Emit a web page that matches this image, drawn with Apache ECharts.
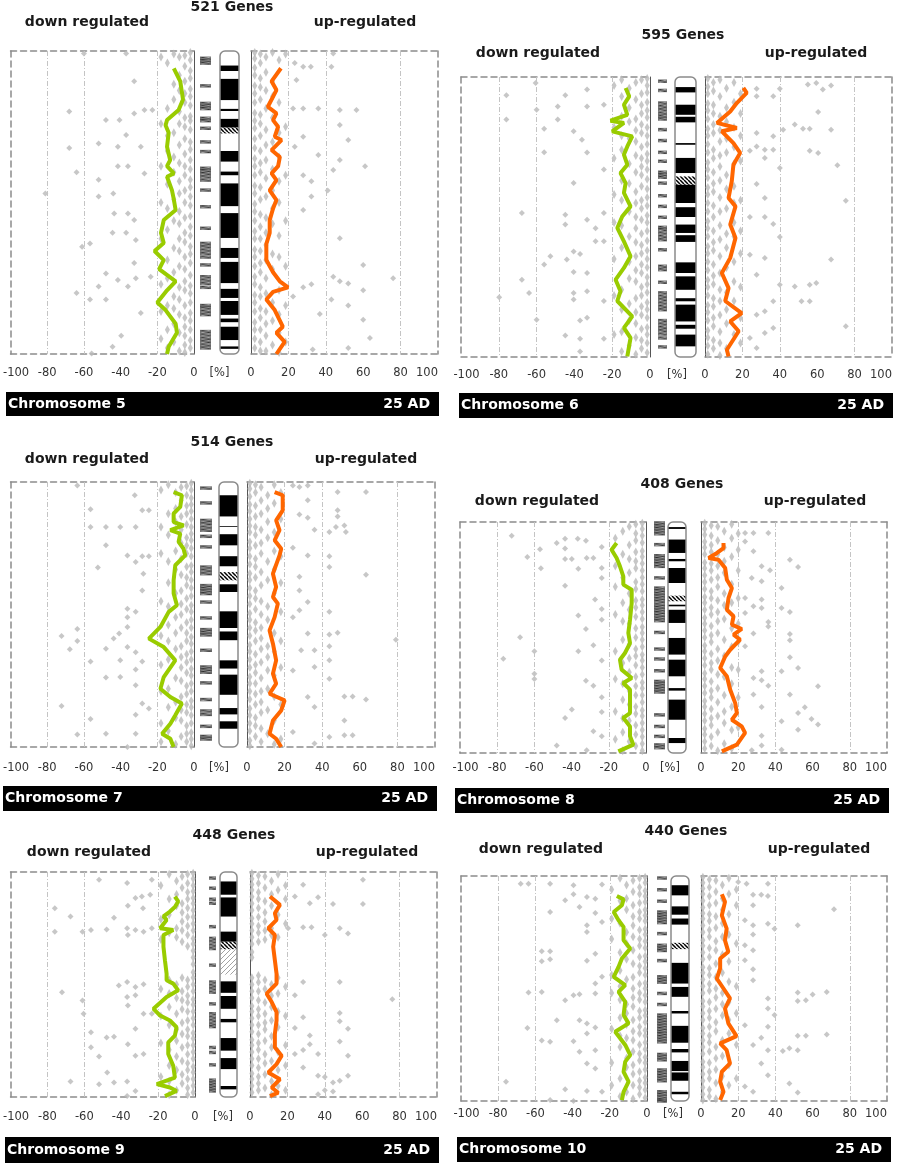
<!DOCTYPE html>
<html>
<head>
<meta charset="utf-8">
<script src="https://cdn.jsdelivr.net/npm/echarts@6.0.0/dist/echarts.min.js"></script>
<style>
  html, body { margin: 0; padding: 0; background: #fff; }
  #chart { width: 897px; height: 1165px; }
</style>
</head>
<body>
<div id="chart"></div>
<script>
// ---- chromosome 5 ----
const chr5Green = [[-11,5.7],[-7.5,10],[-6,16],[-8.4,19.5],[-14.7,22.8],[-15.5,24.5],[-13.8,27],[-14.7,31.6],[-13,36],[-14.7,38],[-11,40.4],[-14.7,41.5],[-12,46],[-11,49],[-10,52.5],[-16.5,55.8],[-18,60],[-16.5,63.4],[-21.5,66],[-16.5,69],[-19,72],[-10,76],[-14.7,79],[-20,83],[-15.5,85.5],[-10,90],[-9.3,93],[-13.8,97.6],[-14.7,100]];
const chr5Orange = [[16,5.7],[11,10],[13.6,12.9],[9,18.4],[13.6,20.6],[11.8,22.8],[14.5,25],[12.7,28.3],[16.3,29.4],[11,32.7],[15.4,35],[14.5,38],[11,40.4],[13.6,42.6],[10,46],[13.6,49.2],[11.8,52],[10,55.8],[10,60],[8.2,63.7],[8.2,66.3],[8.2,69],[11.8,73],[15.4,76],[19.8,78],[11.8,79.5],[8.2,82],[12.7,85.5],[17,91],[13.6,93],[18,96],[13.6,100]];
const chr5Down = [[-68,20],[-68,32],[-64,40],[-52,30.5],[-52,42.5],[-48,22.8],[-40.6,22.8],[-37,27.7],[-32.6,10],[-32.6,20.6],[-27,19.5],[-29,31.6],[-27,40.4],[-22.7,19.5],[-41.5,31.6],[-41.5,38],[-36,38],[-60,0.8],[-37,0.8],[-81,47],[-44,47],[-52,48],[-61,64.6],[-56.7,63.5],[-64,79.9],[-52,77.7],[-56.7,82],[-48,82],[-48,73.4],[-36,77.7],[-37,60],[-31.7,62.4],[-44.4,60],[-43.5,53.6],[-36,53.6],[-32.6,55.8],[-32.6,70],[-29,86.5],[-39.7,94],[-44.4,97.6],[-55.8,99.8],[-41.5,75.6],[-31.7,75],[-23.6,74.5]];
const chr5DownCols = [[-2,[0.5,3,6.5,9,12.5,15,18,21.5,23,26,30,32.5,36,39,42.5,45,48,51,54.5,58,61,64.5,67,70,74,77.5,80,83,86.5,89,92,95.5,98]],[-5,[1.5,5,10,14,17,22,25,29,34,38,41,46,50,55,60,63,68,72,76,79,84,88,91,94,97,99.5]],[-8,[2,8,13,20,24,31,37,43,47,53,57,62,66,71,78,82,87,93,99]],[-11,[1,11,16,27,35,40,49,56,65,73,81,85,90,96]],[-14.5,[4,19,28,33,44,52,59,69,75,84,92,98]],[-18,[2,24,38,50,62,77,86,95]]];
const chr5Up = [[27.9,5.2],[32,5.2],[43,5.2],[24.3,9.6],[22.5,19],[27.9,19],[36,19],[47.5,19.5],[56.4,19.5],[47.5,24.4],[52,29.4],[27.9,28.3],[36,34.3],[47.5,36],[61,38],[44,39.3],[27.9,41],[32.3,43],[41,46],[32.3,48],[23.4,31.6],[44,0.8],[23.4,4],[27.9,52.5],[47.5,61.8],[60,70.6],[44,74.5],[47.5,76],[52,76.7],[76,75],[60,79],[43,82],[52,84],[36.8,86.8],[60,88.7],[63.6,94.7],[52,98],[33,98.5],[27.9,78],[32.3,77],[22.5,81]];
const chr5UpCols = [[2,[0.5,2.5,5.5,8,11.5,14,17,20.5,23,25.5,29,32,35.5,38,41,44.5,47,50.5,53,56,59.5,62,65.5,68,71,74.5,77,80.5,83,86,89.5,92,95,98]],[5,[1,4,9,12,16,21,24,28,33,37,40,45,49,54,58,62,66,70,73,78,81,85,88,92,96,99]],[8,[2,7,13,19,26,31,36,42,48,55,60,64,69,75,80,86,90,94,99]],[11.5,[0.5,10,15,22,30,39,46,52,57,67,72,83,89,97]],[15,[3,17,27,35,43,50,61,68,79,87,93,99.5]],[18.5,[1,25,41,56,71,84,96]]];
const chr5Bands = [[4.8,6.6,1],[9.2,16.2,1],[19.1,19.8,1],[22.4,25.3,1],[25.3,27.2,2],[33,36.5,1],[39.8,41,1],[43.7,51.2,1],[53.5,61.7,1],[65,68.3,1],[69.6,76.6,1],[78.5,81.5,1],[82.5,87.1,1],[88.3,89.5,1],[91,95.4,1],[97.5,98.3,1]];
const chr5Marks = [2.4,3.2,4,11.5,17.3,18.2,19,22.2,23,25.5,30,33.2,38.7,39.5,40.4,41.5,42.6,45.9,51.4,58.5,63.5,64.6,65.7,66.8,68,70.6,74.5,75.6,76.7,78,84,84.8,85.9,87,92.6,93.7,94.8,95.9,97,98];

// ---- chromosome 6 ----
const chr6Green = [[-12.9,3.9],[-11,6.9],[-13.8,9.9],[-12,13.5],[-20.9,15.6],[-13.8,16.4],[-20,19.4],[-9.4,21.2],[-12,24.8],[-13.8,27.7],[-12,31.3],[-15.6,34.3],[-12.9,37.9],[-13.8,41.4],[-10.3,46.2],[-14.7,49.8],[-17.3,53.9],[-13.8,58.7],[-10.3,64],[-13.8,68.2],[-18.2,72.4],[-15.6,76.5],[-17.3,80],[-9.4,85.5],[-13.8,89.6],[-10.3,93.2],[-12,99.8]];
const chr6Orange = [[20.5,3.9],[22.3,5.7],[17,9.3],[13.5,12.3],[6.4,16.4],[17,18.2],[9,19.4],[15.2,23.6],[18.8,27.1],[15.2,31.3],[14.3,37.3],[12.6,43.2],[16.3,46.2],[13.5,52.7],[16.3,57.5],[13.5,64.6],[9,70],[12.6,75.4],[10.8,80],[19.6,84.3],[13.5,87.3],[18,90.8],[11.7,97.4],[12.6,99.8]];
const chr6Down = [[-76,6.5],[-76,15.2],[-60,11.7],[-60.5,2.1],[-56,18.5],[-56,26.9],[-48.8,10.5],[-48.8,15.2],[-44.8,6.5],[-40.4,19.4],[-36,22.4],[-33.3,10.5],[-33.3,4.5],[-24.4,9.9],[-24.4,33],[-40.4,37.9],[-33.3,27],[-67.8,48.6],[-44.8,49.2],[-44.8,52.7],[-33.3,51],[-24.4,48.6],[-28.8,54],[-52.7,64],[-44,65.2],[-40.4,62.3],[-37,63.2],[-56,67],[-67.8,72.4],[-64,77.1],[-79.8,78.7],[-40.4,77.1],[-33.3,76.5],[-40.4,79.5],[-24.4,80],[-40.4,69.6],[-33.3,70],[-60,86.7],[-37,87],[-33.3,86],[-44.8,92.3],[-37,93.5],[-24.4,93.5],[-37,98],[-28.8,58.7],[-24.4,58.7]];
const chr6DownCols = [[-1.5,[0.5,3,5.5,9,12,14.5,18,21,24,27.5,30,33,36.5,40,43,46,49.5,52,55,58.5,62,65,68,71.5,74,77,80.5,83,86,89.5,92,95,98.5]],[-4.5,[1,6,10,13,17,20,25,29,32,35,39,44,47,51,56,60,63,67,70,75,78,82,85,90,94,97]],[-7.5,[2,8,15,19,23,28,34,41,45,50,54,59,64,69,73,79,84,88,93,99]],[-11,[4,11,16,22,31,38,48,57,66,72,81,87,96]],[-15,[1,7,14,21,26,37,44,53,61,76,83,91,98]],[-19,[3,18,29,42,52,65,78,92]]];
const chr6Up = [[27.6,4.2],[27.6,6.9],[36.5,6.9],[40,4.2],[55,2.7],[59.5,2.1],[67.4,3],[63,4.5],[60.5,12.5],[48,17],[52.4,18.5],[56,18.5],[67.4,18.8],[41.8,18.8],[27.6,20],[36.5,21.2],[27.6,24.8],[32,26],[36.5,26],[24,26.3],[56,26.3],[60.5,27.1],[32,28.9],[70.8,31.5],[40,32.5],[27.6,38.2],[32,43.2],[75.3,44.2],[24,50],[32,50],[36.5,52.5],[40,57.1],[24,63.5],[32,64.6],[67.4,65.2],[27.6,70.6],[48,74.8],[56,74.2],[59.5,73.6],[40,74.2],[36.5,80.1],[51.6,80.1],[56,80.1],[32,83.7],[27.6,84.9],[75.3,89],[36.5,89.6],[24,93.2],[32,91.4],[27.6,96.8]];
const chr6UpCols = [[1.5,[0.5,3.5,6,9.5,12,15,18.5,21,24,27,30.5,33,36,39.5,42,45,48,51.5,54,57,60.5,63,66,69,72.5,75,78,81.5,84,87,90.5,93,96,99]],[4.5,[2,5,10,13,17,20,26,29,34,38,41,46,50,55,59,62,67,71,74,79,82,86,89,94,97]],[8,[1,7,14,19,23,28,32,37,43,48,53,58,64,70,76,80,85,91,95,99.5]],[11.5,[4,11,16,22,27,35,40,47,56,61,68,77,83,88,97]],[15.5,[2,9,18,25,31,39,45,52,57,66,73,80,92]],[19,[6,13,21,30,44,55,63,75,86,95]]];
const chr6Bands = [[3.6,5.5,1],[9.9,13.5,1],[14.2,16.2,1],[23.6,24.2,1],[28.9,34.3,1],[35.5,38.5,2],[38.5,45,1],[46.5,50,1],[52.7,55.7,1],[56.5,58.9,1],[66.2,70,1],[71.2,76,1],[79,80.1,1],[81.3,87.3,1],[88.5,89.9,1],[92,96.2,1]];
const chr6Marks = [1.5,4.8,9.3,10.5,11.7,12.9,14,15,18.8,22.7,26.9,30.1,34,34.9,35.8,37.9,42.4,46.2,50.1,53.7,54.5,55.7,56.9,58.1,61.7,67.6,68.8,73.3,77.1,78.3,79.5,80.7,81.9,83.1,87,88.2,89.4,90.6,91.8,93.2,96.4];

// ---- chromosome 7 ----
const chr7Green = [[-11.1,3.8],[-6.6,5],[-7.5,9.4],[-11.1,11.9],[-11.1,15.1],[-5.7,16.4],[-12.9,18.2],[-7.5,19.5],[-8.4,22.6],[-5.7,25.2],[-4.8,27.7],[-10.2,31.4],[-11.1,37.1],[-11.1,42.1],[-9.3,46.5],[-13.8,49],[-18.3,54.7],[-24.6,59.1],[-16.5,62.3],[-10.2,67.3],[-16.5,73.6],[-18.3,78],[-12.9,81.1],[-6.6,83.6],[-10.2,88],[-12.9,91.2],[-17.4,95],[-12.9,96.9],[-11.1,100]];
const chr7Orange = [[14.7,3.8],[19,5],[19,10.7],[15.5,14.5],[17.3,18.2],[14.7,22],[18.2,25.2],[17.3,27.7],[13.8,34.6],[15.5,39.6],[13.8,43.4],[16.4,45.9],[14.7,51],[12,56],[13.8,61],[15.5,67.3],[13.8,72.3],[15.5,76.1],[12,79.9],[20,82.4],[18.2,86.2],[13.8,90],[12,95],[15.5,96.9],[18.2,100]];
const chr7Down = [[-63.6,1.3],[-56.4,10.3],[-56.4,17],[-48,17],[-40.2,17],[-31.8,17],[-28.2,10.7],[-24.6,10.7],[-32.3,5],[-48,23.9],[-36.3,27.7],[-28.2,28],[-24.6,28],[-52.4,32.3],[-31.8,30.2],[-27.6,34.6],[-28.2,40.9],[-36.3,47.8],[-36.3,51],[-31.8,49],[-72.2,58.1],[-63.6,55.5],[-63.6,60],[-67.7,63.1],[-43.8,59.1],[-40.8,57.2],[-36.3,54.7],[-36.3,62.3],[-40.2,67.3],[-48,62.9],[-56.4,67.7],[-31.8,64.2],[-28.2,67.7],[-48,73.8],[-40.2,73.6],[-31.8,70.8],[-31.8,76.7],[-72.2,84.5],[-56.4,89.4],[-48,95],[-63.6,95.3],[-31.8,87.8],[-31.8,95],[-28.2,83.6],[-24.6,85.5],[-36.3,100]];
const chr7DownCols = [[-1.5,[0.5,3,6,8.5,11,14,17,19.5,22,25,28,31.5,34,37,40,43,46.5,49,52,55,58.5,61,64,67,70.5,73,76,79,82.5,85,88,91,94.5,97,99.5]],[-4,[1.5,5,9,12,16,21,24,27,32,36,39,44,48,53,57,60,65,68,72,77,80,84,87,92,95,98]],[-7,[2,7,13,18,23,29,35,41,46,50,55,62,66,70,75,81,86,90,96]],[-10,[4,10,15,26,33,42,51,57,63,74,83,89,99]],[-14,[1,12,20,30,38,47,54,60,67,78,85,94]],[-18,[3,17,27,45,58,69,79,91,98]]];
const chr7Up = [[24.4,1.3],[27.9,1.9],[32.3,1.3],[63.3,3.8],[48.2,3.8],[32.3,6.9],[48.2,10.7],[48.2,13],[27.9,12.3],[32.3,13.5],[47.3,17],[51.8,16.4],[43.8,18.9],[52.6,18.9],[35.9,18],[24.4,24.8],[32.3,27.7],[43.8,28],[43.8,32.1],[63.3,35],[27.9,35.8],[27.9,40.9],[32.3,45.3],[27.9,48.4],[43.8,49],[24.4,51],[43.8,57.5],[48.2,56.9],[79.2,59.5],[32.3,57.2],[43.8,62],[28.8,63.5],[35.9,63.5],[43.8,67.3],[35.9,69.8],[43.8,74.2],[24.4,71.1],[51.8,80.9],[56.2,80.9],[63.3,82.1],[32.3,81.1],[35.9,84.9],[51.8,90],[51.8,95.6],[56.2,95.6],[43.8,96.2],[35.9,98.7],[24.4,94.3]];
const chr7UpCols = [[1.5,[0.5,2.5,5.5,8.5,11,14,16.5,19,22.5,25,28,31,34.5,37,40,43,46,49.5,52,55,58,61.5,64,67,70,73.5,76,79,82,85.5,88,91,94,97.5,99.5]],[4.5,[1,4,9,13,17,20,24,29,32,36,41,44,48,53,56,60,65,69,72,76,80,84,89,92,96]],[7.5,[2,7,12,18,23,27,34,39,45,50,55,59,63,68,74,79,83,87,93,98]],[11,[5,10,15,21,30,37,47,52,62,66,71,78,86,95]],[14.5,[1,8,19,26,33,42,57,64,73,81,90,99]],[18,[4,14,28,38,49,60,70,84,97]]];
const chr7Bands = [[5,13,1],[16.6,16.9,1],[19.7,23.9,1],[28,31.8,1],[34,37.1,2],[38.6,41.5,1],[48.8,55.1,1],[56.4,59.7,1],[67.3,70.4,1],[72.7,80.3,1],[85.3,87.7,1],[90.3,93.1,1]];
const chr7Marks = [2.3,7.9,14.5,15.7,17,18.2,20.5,24.5,32.1,33.3,34.6,39.1,40.1,41.1,42.1,45.3,51.3,55.7,56.7,57.7,63.5,69.8,70.8,71.8,75.8,82.1,86.4,87.7,92.2,96,97];

// ---- chromosome 8 ----
const chr8Green = [[-15.8,9.1],[-18.5,12],[-15.8,15.6],[-14,19.2],[-12.2,23.5],[-12.2,27.1],[-7.7,29.3],[-7.7,35.1],[-8.6,42.3],[-9.5,48],[-8.6,52.4],[-11.3,56.7],[-14,59.6],[-13.1,63.9],[-7.7,67.5],[-12.2,69.7],[-8.6,72.6],[-8.6,78.4],[-8.6,82.7],[-12.2,84.8],[-8.6,88.5],[-8.6,92.8],[-6.8,96.4],[-14.9,99.3]];
const chr8Orange = [[12.1,9.1],[12.1,11.3],[8.6,13.4],[4.1,15.6],[9.4,16.3],[13,19.9],[13.9,25],[16.6,28.6],[14.8,32.9],[13.9,38],[17.5,40.8],[16.6,44.4],[21.9,46.3],[17.5,48.8],[21,50.9],[15.7,55.3],[13,58.2],[10.3,63.2],[13.9,66.8],[15.7,72.6],[18.4,78.4],[19.3,82.7],[16.6,85.6],[21.9,88.5],[23.7,91.3],[19.3,96.4],[11.2,99.3]];
const chr8Down = [[-72.2,5.9],[-43.5,7.2],[-36.7,7.2],[-32.3,8.1],[-48,9.1],[-43.5,11.5],[-23.8,10.8],[-57,11.8],[-63.8,15.2],[-43.5,16],[-39.9,16],[-31.9,15.6],[-28.3,15.6],[-56.5,20],[-36.4,20.2],[-23.8,19.9],[-23.8,24.2],[-43.5,27.6],[-27.4,33.6],[-23.8,37.7],[-36.4,40.5],[-23.8,42.3],[-32.3,46.3],[-67.7,49.9],[-28.3,53.4],[-36.4,56],[-60,56],[-76.7,59.2],[-23.8,60],[-60,65.7],[-60,68],[-32.3,68.7],[-28.3,70.9],[-23.8,75.9],[-39.9,81.2],[-43.5,84.8],[-23.8,82.3],[-48,96.8],[-31.9,98.8],[-23.8,92.8],[-28.3,90.6]];
const chr8DownCols = [[-2,[0.5,3,6,9,12.5,15,18,21,24,27,30,33.5,36,39,42,45.5,48,51,54,57.5,60,63,66,69.5,72,75,78,81.5,84,87,90,93,96,99]],[-5.5,[1,5,8,13,17,20,26,29,34,37,41,46,50,55,58,62,67,71,75,80,83,88,92,97]],[-9,[2,10,16,22,31,38,44,53,59,65,73,79,86,95]],[-12.5,[4,14,24,35,43,51,61,70,77,85,91,99]],[-16.5,[7,19,28,40,56,68,82,94]]];
const chr8Up = [[23.7,4.8],[28.2,4.8],[36.2,4.8],[23.7,8.4],[28.2,12.7],[47.8,16.3],[52.2,19.5],[32.6,19.2],[37.1,20.9],[27.3,24.2],[32.6,25.7],[43.3,28.6],[23.7,32.9],[32.6,33.6],[28.2,36.5],[32.6,37.2],[43.3,37.2],[47.8,39],[23.7,39.4],[36.2,43.3],[36.2,45.2],[28.2,48.3],[47.8,48.5],[47.8,51.2],[23.7,53.8],[47.8,58.6],[52.2,63.2],[43.3,64.6],[32.6,64.6],[28.2,67.5],[32.6,68.5],[36.2,70.9],[47.8,74.7],[62.9,71.1],[28.2,74.7],[32.6,80.1],[55.8,80.2],[52.2,82.7],[59.4,85.3],[62.9,87.7],[43.3,86.3],[52.2,89.9],[32.6,92.5],[32.6,96.8],[43.3,98.6],[27.3,98.8]];
const chr8UpCols = [[2,[0.5,3,5.5,8.5,11,14,17.5,20,23,26,29,32.5,35,38,41.5,44,47,50,53.5,56,59,62,65.5,68,71,74,77.5,80,83,86,89.5,92,95,98]],[5.5,[1.5,6,10,13,18,21,25,30,33,37,40,45,49,52,57,61,64,69,73,76,81,85,88,93,97]],[9,[2,8,14,19,24,28,34,39,43,48,55,60,66,72,78,84,91,99]],[12.5,[4,11,17,22,31,36,42,51,58,67,75,82,87,96]],[16.5,[1,7,15,27,35,46,54,63,70,80,90,98]],[20,[5,12,21,33,44,52,64,76,89]]];
const chr8Bands = [[2.2,3,1],[7.6,13.4,1],[16,17,1],[19.9,26.4,1],[31.9,34.3,2],[35.8,36.5,1],[38,43.7,1],[50.2,57.4,1],[59.6,66.8,1],[71.9,73,1],[76.9,85.6,1],[93.5,95.7,1]];
const chr8Marks = [0.4,1.6,2.7,3.9,5.1,9.8,14.6,15.7,16.9,18,19.2,24.2,28.6,29.7,30.9,32,33.2,34.3,35.8,36.9,38.1,39.2,40.4,41.6,42.7,47.8,55,59.3,64.4,69,70.1,71.3,72.4,73.6,83.5,88.5,92.8,96.5,97.7];

// ---- chromosome 9 ----
const chr9Green = [[-10.9,10.9],[-9.1,13.1],[-10.9,15.6],[-13.6,17.6],[-17.1,19.7],[-15.4,21.3],[-18.9,25],[-11.8,25.8],[-17.1,28],[-17.1,33.2],[-16.3,39.2],[-15.4,45.2],[-15.4,48.1],[-11.8,49.6],[-9.1,52.6],[-15.4,55.6],[-22.5,60.8],[-18.9,63.8],[-13.6,66],[-10,69],[-10.9,72.7],[-14.5,75.7],[-14.5,80.9],[-11.8,86.1],[-10.9,91.4],[-20.7,94.3],[-13.6,95.8],[-10,97.3],[-16.3,99.6]];
const chr9Orange = [[10.7,10.9],[16,14.6],[13.3,18.3],[14.2,21.3],[9.8,25],[13.3,28],[12.4,33.2],[13.3,39.2],[14.2,45.2],[14.2,49.6],[8.9,54.1],[11.6,57.8],[14.2,62.3],[14.2,66],[13.3,72],[13.3,77.9],[16.9,81.7],[14.2,85.4],[9.8,89.1],[16,92.1],[11.6,95.8],[15.1,98.1],[10.7,99.6]];
const chr9Down = [[-52,3.4],[-36.8,4.9],[-23.4,3.4],[-32.3,11.6],[-28.8,10.9],[-24.3,10.1],[-36.4,15],[-28.2,16.1],[-76,16.1],[-67.5,19.8],[-43.9,20.3],[-76,26.5],[-61,26.5],[-56.4,25.8],[-47.9,25.5],[-36.8,25],[-32.3,25.8],[-27.9,26.5],[-23.4,25],[-36.4,28],[-72.1,53.4],[-61,57.1],[-60.4,63],[-41.3,50.4],[-36.8,48.9],[-32.3,51.1],[-27.9,49.9],[-36.8,55.6],[-32.3,54.8],[-36.4,59.3],[-27.9,63],[-23.4,63],[-32.3,69.7],[-56.4,71.2],[-47.9,73.5],[-43.9,73.2],[-36.4,76.5],[-56.4,77.9],[-52,82],[-32.3,81.7],[-27.9,80.9],[-47.6,89.1],[-43.9,93.6],[-36.8,93.1],[-52,94.3],[-67.5,93.1],[-32.3,97.3],[-36.8,99.6]];
const chr9DownCols = [[-1,[0.5,3,6,8.5,11.5,14,17,20,23,26,29.5,32,35,38,41,44.5,47,50,53,56.5,59,62,65,68,71.5,74,77,80,83,86.5,89,92,95,98]],[-4,[1,5,9,12,16,20,24,28,33,48,51,55,58,62,66,70,73,77,81,85,88,92,96,99]],[-7,[2,7,14,18,22,26,31,47,53,57,61,67,72,78,84,90,94]],[-10,[4,10,15,25,29,50,56,63,70,75,82,88,97]],[-14,[1,12,19,27,48,54,60,68,79,86,93,99]],[-18.5,[6,21,30,52,64,76,91]]];
const chr9Up = [[24,10.9],[28.4,5.7],[36.4,11.2],[32,13.9],[44.4,14.2],[60.4,14.2],[60.4,3.4],[20.4,25],[28.4,24.6],[32.9,24.6],[48,25],[52.4,27.3],[40,28],[28.4,48.9],[48,48.9],[24,54.8],[76.1,56.6],[28.4,64.5],[48,62.7],[48,66.3],[24,69.3],[52.4,69.7],[32,72.7],[48,75.3],[32,76.5],[24,80.9],[28.4,79.1],[36.4,80.9],[52.4,81.7],[28.4,86.9],[36.4,90.6],[40,91.1],[44.4,93.6],[52.4,90.6],[48,92.8],[40,97],[36.4,98.8],[44.4,97.6]];
const chr9UpCols = [[1,[0.5,3,5.5,8,11,14,17,20.5,23,26,29,32,35.5,38,47,50,53,56,59.5,62,65,68,71,74.5,77,80,83,86,89.5,92,95,98]],[4.5,[1.5,5,9,12,16,20,24,27,31,46,49,53,57,61,64,68,72,76,79,83,87,91,94,97]],[8,[2,7,13,18,22,26,30,48,52,58,63,67,70,75,81,85,90,96]],[11.5,[4,10,15,25,28,50,55,60,66,73,78,84,93,99]],[15,[1,8,19,29,47,54,62,69,80,88,95]],[19,[6,12,23,51,64,77,86,97]]];
const chr9Bands = [[4.2,10.1,1],[11.3,19.8,1],[26.5,31,1],[31,34.4,2],[34.4,45.6,3],[48.6,53.7,1],[55.1,60.8,1],[65.3,66.8,1],[73.8,79.4,1],[82.7,87.6,1],[95.1,96.6,1]];
const chr9Marks = [2.7,7.2,12.1,13.9,24.3,29.5,31,32.5,34,41.4,48.9,50.4,51.9,53.4,58.6,63,64.5,66,67.5,68.7,78,80.2,85.7,92.5,93.7,94.9,96.1,97.3];

// ---- chromosome 10 ----
const chr10Green = [[-16.2,8.9],[-12.6,10.4],[-13.5,13],[-17.9,16],[-15.3,19.7],[-12.6,22.6],[-12.6,28.6],[-9,32.2],[-13.5,36.7],[-15.3,40.4],[-17.9,44.8],[-11.7,48.5],[-15.3,51.5],[-11.7,55.9],[-12.6,61.8],[-9.9,65.5],[-17.1,69.2],[-11.7,75.1],[-9,79.6],[-11.7,82.5],[-12.6,87],[-9.9,91.4],[-12.6,95.9],[-13.5,99.6]];
const chr10Orange = [[11.2,8.1],[12.9,11.5],[11.2,17.5],[13.8,23.4],[12.9,28.6],[14.7,33.7],[10.3,36.7],[10.3,41.1],[8.5,45.6],[12.1,50],[15.6,54.4],[12.9,58.9],[14.7,65.5],[19.1,71.2],[10.3,74.4],[13.8,77.4],[15.6,83.3],[11.2,87],[10.3,91.4],[12.1,95.9],[10.3,99.6]];
const chr10Down = [[-67.9,3.4],[-63.7,3.4],[-52.1,3.4],[-39.5,4.1],[-24.2,3.8],[-39.5,8.1],[-32.3,9.3],[-27.8,10.1],[-44,10.8],[-36.3,13.8],[-52.1,16],[-27.8,16.4],[-24.2,20.4],[-32.3,21.9],[-32.3,24.9],[-56.6,33.4],[-52.1,33.4],[-56.6,37.9],[-52.1,37],[-27.8,34.5],[-32.3,37.7],[-24.2,44.8],[-27.8,47.8],[-63.7,51.8],[-56.6,51.5],[-44,55.2],[-39.5,53],[-36.3,52.5],[-27.8,52.2],[-48.5,64.1],[-36.3,64.1],[-32.3,65.5],[-27.8,67.3],[-64.3,67.5],[-56.6,73.1],[-52.1,73.7],[-39.5,73.4],[-32.3,70],[-36.3,78.1],[-27.8,77.4],[-32.3,83.3],[-27.8,85.5],[-75.8,91.4],[-44,94.8],[-32.3,95.6],[-52.1,99.6],[-39.5,100],[-24.2,95.9]];
const chr10DownCols = [[-1,[0.5,3,6.5,9,11.5,15,17.5,20,23.5,26,29,32,35.5,38,41,44,47.5,50,53,56,59.5,62,65,68.5,71,74,77,80.5,83,86,89.5,92,95,98.5]],[-4,[1,5,8,12,16,19,24,28,31,36,40,43,48,52,55,60,63,67,70,75,79,82,87,91,94,97]],[-7.5,[2,7,13,18,22,27,33,39,45,50,54,58,64,69,73,78,84,88,93,99]],[-11,[4,10,15,25,30,37,46,57,61,66,72,81,85,96]],[-14.5,[1,11,21,34,42,49,55,63,71,76,90,98]],[-19,[6,19,28,44,52,68,83,93]]];
const chr10Up = [[20,2.7],[24.5,3.4],[36,3.4],[28,8.3],[32.4,8.3],[36,8.9],[28,13],[71.5,14.8],[23.6,19.7],[28,21.9],[36,21.2],[39.5,23.4],[52,21.9],[28,26],[23.6,30.8],[28,33],[23.6,37.4],[28,41.4],[28,46.3],[36,54.4],[52,51.8],[52,55.6],[56.4,55.2],[60,52.7],[67.6,51.5],[36,58.9],[39.5,61.8],[23.6,66.3],[36,67],[32.4,71.9],[52,71],[56.4,71],[67.6,70.4],[44,77.8],[47.5,76.6],[52,77.4],[28,75.1],[36,77.4],[32.4,83.3],[36,88.5],[47.5,92.2],[28,95.9],[52,96.2],[23.6,93.6]];
const chr10UpCols = [[1,[0.5,3,5.5,8,11,14,16.5,19,22,25,28.5,31,34,37,40.5,43,46,49,52,55.5,58,61,64,67.5,70,73,76,79,82.5,85,88,91,94,97,99.5]],[4.5,[1.5,5,9,13,17,20,24,27,32,36,41,44,48,51,56,60,63,67,71,74,78,83,87,90,95,98]],[8,[2,7,12,18,23,29,33,39,45,50,54,59,65,69,76,81,86,92,99]],[11.5,[4,10,15,21,27,35,43,52,57,62,73,80,89,96]],[15,[1,8,17,26,38,47,56,64,70,84,93]],[19,[6,13,30,49,61,75,90]]];
const chr10Bands = [[4.1,8.6,1],[13.5,17.2,1],[18.9,21.6,1],[29.7,32.5,2],[38.6,47.8,1],[49.3,53.7,1],[60,61.1,1],[66.6,74.1,1],[76.9,78.4,1],[82.2,86.7,1],[87.3,91,1],[95.9,97,1]];
const chr10Marks = [0.9,6.1,11.2,16,17.2,18.3,19.5,20.7,25.6,30.8,32,33.1,37.6,44.8,46,47.2,52.2,57.1,61.8,63,64.2,65.4,66.6,67.8,69,70.1,71.3,72.5,73.7,79.3,80.5,81.7,86.2,87.4,88.6,89.8,91,95.9,97,98.2,99.4,100];

// shared axis things
const downTicks = [-80, -60, -20];   // reference lines drawn on the down side
const upTicks = [20, 40, 80];
const wholeChromosome = [[0, 100]];

// where each panel sits on the page
const panels = [
  { name: 'Chromosome 5', genes: '521 Genes', green: chr5Green, orange: chr5Orange, down: chr5Down, downCols: chr5DownCols, up: chr5Up, upCols: chr5UpCols, bands: chr5Bands, marks: chr5Marks,
    L: [8, 194], R: [251, 438], box: [51, 354], ideo: [220, 239], mk: [200, 211], labelY: 373, titleX: 232, titleY: 7, subY: 22, downX: 87, upX: 365, bar: [6, 392, 439, 416] },
  { name: 'Chromosome 6', genes: '595 Genes', green: chr6Green, orange: chr6Orange, down: chr6Down, downCols: chr6DownCols, up: chr6Up, upCols: chr6UpCols, bands: chr6Bands, marks: chr6Marks,
    L: [461, 650], R: [705, 892], box: [77, 357], ideo: [675, 696], mk: [658, 667], labelY: 375, titleX: 683, titleY: 35, subY: 53, downX: 538, upX: 816, bar: [459, 393, 893, 418] },
  { name: 'Chromosome 7', genes: '514 Genes', green: chr7Green, orange: chr7Orange, down: chr7Down, downCols: chr7DownCols, up: chr7Up, upCols: chr7UpCols, bands: chr7Bands, marks: chr7Marks,
    L: [8, 194], R: [247, 435], box: [482, 747], ideo: [219, 238], mk: [200, 212], labelY: 768, titleX: 232, titleY: 442, subY: 459, downX: 87, upX: 366, bar: [3, 786, 437, 811] },
  { name: 'Chromosome 8', genes: '408 Genes', green: chr8Green, orange: chr8Orange, down: chr8Down, downCols: chr8DownCols, up: chr8Up, upCols: chr8UpCols, bands: chr8Bands, marks: chr8Marks,
    L: [460, 646], R: [701, 887], box: [522, 753], ideo: [668, 686], mk: [654, 665], labelY: 768, titleX: 682, titleY: 484, subY: 501, downX: 537, upX: 815, bar: [455, 788, 889, 813] },
  { name: 'Chromosome 9', genes: '448 Genes', green: chr9Green, orange: chr9Orange, down: chr9Down, downCols: chr9DownCols, up: chr9Up, upCols: chr9UpCols, bands: chr9Bands, marks: chr9Marks,
    L: [9, 195], R: [250, 437], box: [872, 1097], ideo: [220, 237], mk: [209, 216], labelY: 1117, titleX: 234, titleY: 835, subY: 852, downX: 89, upX: 367, bar: [5, 1137, 439, 1163] },
  { name: 'Chromosome 10', genes: '440 Genes', green: chr10Green, orange: chr10Orange, down: chr10Down, downCols: chr10DownCols, up: chr10Up, upCols: chr10UpCols, bands: chr10Bands, marks: chr10Marks,
    L: [461, 647], R: [701, 887], box: [876, 1101], ideo: [671, 689], mk: [657, 667], labelY: 1114, titleX: 686, titleY: 831, subY: 849, downX: 541, upX: 819, bar: [457, 1137, 891, 1162] }
];

const FONT = '"DejaVu Sans", Verdana, sans-serif';

// small canvas tiles for the hatched bands and the marker ticks
function tile(size, draw) {
  const c = document.createElement('canvas');
  c.width = size; c.height = size;
  const g = c.getContext('2d');
  g.fillStyle = '#fff'; g.fillRect(0, 0, size, size);
  draw(g, size);
  return c;
}
const cenTile = tile(4, (g, s) => {
  g.strokeStyle = '#000'; g.lineWidth = 1.5; g.beginPath();
  for (let k = -s; k <= s; k += s) { g.moveTo(k, 0); g.lineTo(k + s, s); }
  g.stroke();
});
const lightTile = tile(5, (g, s) => {
  g.strokeStyle = '#8a8a8a'; g.lineWidth = 0.8; g.beginPath();
  for (let k = -s; k <= s; k += s) { g.moveTo(k, s); g.lineTo(k + s, 0); }
  g.stroke();
});
const checkTile = tile(2, (g) => {
  g.fillStyle = '#9a9a9a'; g.fillRect(0, 0, 2, 2);
  g.fillStyle = '#000'; g.fillRect(0, 0, 1, 1); g.fillRect(1, 1, 1, 1);
});

// the dense columns next to 0 are kept as x plus a list of positions
function columns(cols) {
  const pts = [];
  cols.forEach(([x, ys]) => ys.forEach(y => pts.push([x, y])));
  return pts;
}

const dashed = { color: '#8c8c8c', width: 1.5, type: [6, 4] };
const hidden = { axisLine: { show: false }, axisTick: { show: false }, axisLabel: { show: false }, splitLine: { show: false } };
const GRAY = '#b9b9b9';

const grid = [], xAxis = [], yAxis = [], series = [], graphic = [];

panels.forEach(p => {
  const top = p.box[0], height = p.box[1] - p.box[0];
  const margin = p.labelY - p.box[1] - 6;
  const textBits = { fontSize: 11.5, color: '#333', fontFamily: FONT };

  // left (down regulated) half
  const gL = grid.length;
  grid.push({ left: p.L[0], width: p.L[1] - p.L[0], top, height });
  const xL = xAxis.length;
  xAxis.push({ gridIndex: gL, type: 'value', min: -100, max: 0, interval: 20, position: 'bottom',
    axisLine: { onZero: false, lineStyle: dashed }, axisTick: { show: false }, splitLine: { show: false },
    axisLabel: Object.assign({ margin, formatter: v => v === -100 ? '{edge|-100}' : String(v),
      rich: { edge: Object.assign({ padding: [0, 0, 0, 11] }, textBits) } }, textBits) });
  xAxis.push(Object.assign({ gridIndex: gL, type: 'value', min: -100, max: 0, position: 'top' }, hidden,
    { axisLine: { show: true, onZero: false, lineStyle: dashed } }));
  const yL = yAxis.length;
  yAxis.push(Object.assign({ gridIndex: gL, type: 'value', min: 0, max: 100, inverse: true, position: 'left' }, hidden,
    { axisLine: { show: true, onZero: false, lineStyle: dashed } }));
  yAxis.push(Object.assign({ gridIndex: gL, type: 'value', min: 0, max: 100, inverse: true, position: 'right' }, hidden,
    { axisLine: { show: true, onZero: false, lineStyle: { color: '#555', width: 1 } } }));

  // right (up-regulated) half
  const gR = grid.length;
  grid.push({ left: p.R[0], width: p.R[1] - p.R[0], top, height });
  const xR = xAxis.length;
  xAxis.push({ gridIndex: gR, type: 'value', min: 0, max: 100, interval: 20, position: 'bottom',
    axisLine: { onZero: false, lineStyle: dashed }, axisTick: { show: false }, splitLine: { show: false },
    axisLabel: Object.assign({ margin, alignMaxLabel: 'right' }, textBits) });
  xAxis.push(Object.assign({ gridIndex: gR, type: 'value', min: 0, max: 100, position: 'top' }, hidden,
    { axisLine: { show: true, onZero: false, lineStyle: dashed } }));
  const yR = yAxis.length;
  yAxis.push(Object.assign({ gridIndex: gR, type: 'value', min: 0, max: 100, inverse: true, position: 'left' }, hidden,
    { axisLine: { show: true, onZero: false, lineStyle: { color: '#555', width: 1 } } }));
  yAxis.push(Object.assign({ gridIndex: gR, type: 'value', min: 0, max: 100, inverse: true, position: 'right' }, hidden,
    { axisLine: { show: true, onZero: false, lineStyle: dashed } }));

  // ideogram
  const gI = grid.length;
  grid.push({ left: p.ideo[0], width: p.ideo[1] - p.ideo[0], top, height });
  const xI = xAxis.length;
  xAxis.push(Object.assign({ gridIndex: gI, type: 'value', min: 0, max: 1 }, hidden));
  const yI = yAxis.length;
  yAxis.push(Object.assign({ gridIndex: gI, type: 'value', min: 0, max: 100, inverse: true }, hidden));

  // marker ticks beside the ideogram
  const gM = grid.length;
  grid.push({ left: p.mk[0], width: p.mk[1] - p.mk[0], top, height });
  const xM = xAxis.length;
  xAxis.push(Object.assign({ gridIndex: gM, type: 'value', min: 0, max: 1 }, hidden));
  const yM = yAxis.length;
  yAxis.push(Object.assign({ gridIndex: gM, type: 'value', min: 0, max: 100, inverse: true }, hidden));

  const refLine = vals => ({
    silent: true, symbol: 'none', label: { show: false },
    lineStyle: { color: '#c4c4c4', width: 1, type: [5, 2, 1, 2] },
    data: vals.map(v => ({ xAxis: v }))
  });

  // scattered genes far from 0
  series.push({
    type: 'scatter', xAxisIndex: xL, yAxisIndex: yL, data: p.down,
    symbol: 'diamond', symbolSize: 6, itemStyle: { color: GRAY }, markLine: refLine(downTicks), z: 2
  });
  series.push({
    type: 'scatter', xAxisIndex: xR, yAxisIndex: yR, data: p.up,
    symbol: 'diamond', symbolSize: 6, itemStyle: { color: GRAY }, markLine: refLine(upTicks), z: 2
  });
  // crowded columns next to 0: a little taller so they merge into stripes
  series.push({
    type: 'scatter', xAxisIndex: xL, yAxisIndex: yL, data: columns(p.downCols),
    symbol: 'diamond', symbolSize: [5, 9], itemStyle: { color: GRAY }, z: 2
  });
  series.push({
    type: 'scatter', xAxisIndex: xR, yAxisIndex: yR, data: columns(p.upCols),
    symbol: 'diamond', symbolSize: [5, 9], itemStyle: { color: GRAY }, z: 2
  });
  series.push({
    type: 'line', xAxisIndex: xL, yAxisIndex: yL, data: p.green, showSymbol: false,
    lineStyle: { color: '#99cc00', width: 4 }, z: 5
  });
  series.push({
    type: 'line', xAxisIndex: xR, yAxisIndex: yR, data: p.orange, showSymbol: false,
    lineStyle: { color: '#ff6600', width: 4 }, z: 5
  });

  series.push({
    type: 'custom', xAxisIndex: xI, yAxisIndex: yI, data: p.bands, z: 3,
    renderItem: (params, api) => {
      const a = api.coord([0, api.value(0)]);
      const b = api.coord([1, api.value(1)]);
      const k = api.value(2);
      const fill = k === 1 ? '#000' : { image: k === 2 ? cenTile : lightTile, repeat: 'repeat' };
      return { type: 'rect', shape: { x: a[0], y: a[1], width: b[0] - a[0], height: b[1] - a[1] }, style: { fill } };
    }
  });
  series.push({
    type: 'custom', xAxisIndex: xI, yAxisIndex: yI, data: wholeChromosome, z: 4,
    renderItem: (params, api) => {
      const a = api.coord([0, api.value(0)]);
      const b = api.coord([1, api.value(1)]);
      return { type: 'rect', shape: { x: a[0], y: a[1], width: b[0] - a[0], height: b[1] - a[1], r: 5 },
        style: { fill: null, stroke: '#8a8a8a', lineWidth: 1.5 } };
    }
  });
  series.push({
    type: 'scatter', xAxisIndex: xM, yAxisIndex: yM, data: p.marks.map(y => [0.5, y]),
    symbol: 'rect', symbolSize: [p.mk[1] - p.mk[0], 3.5],
    itemStyle: { color: { image: checkTile, repeat: 'repeat' } }, z: 3
  });

  // texts and the black name bar
  const bold = 'bold 14px ' + FONT;
  const label = (x, y, text, font, fill, align) =>
    graphic.push({ type: 'text', x, y, style: { text, font, fill, textAlign: align || 'center', textVerticalAlign: 'middle' } });
  label(p.titleX, p.titleY, p.genes, bold, '#1a1a1a');
  label(p.downX, p.subY, 'down regulated', bold, '#1a1a1a');
  label(p.upX, p.subY, 'up-regulated', bold, '#1a1a1a');
  label((p.mk[0] + p.ideo[1]) / 2, p.labelY, '[%]', '11.5px ' + FONT, '#333');
  const [bx0, by0, bx1, by1] = p.bar;
  graphic.push({ type: 'rect', shape: { x: bx0, y: by0, width: bx1 - bx0, height: by1 - by0 }, style: { fill: '#000' } });
  label(bx0 + 2, (by0 + by1) / 2, p.name, bold, '#fff', 'left');
  label(bx1 - 9, (by0 + by1) / 2, '25 AD', bold, '#fff', 'right');
});

const chart = echarts.init(document.getElementById('chart'));
chart.setOption({
  animation: false,
  backgroundColor: '#fff',
  grid, xAxis, yAxis, series, graphic
});
</script>
</body>
</html>
